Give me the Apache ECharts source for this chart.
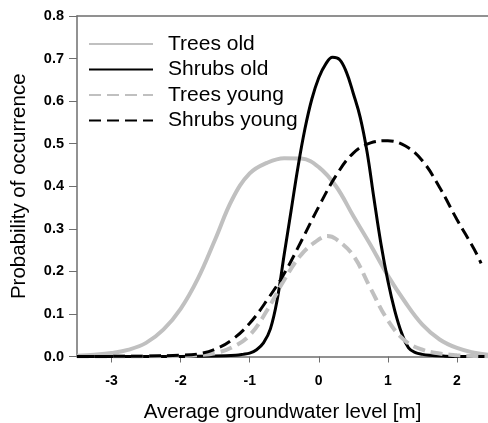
<!DOCTYPE html>
<html><head><meta charset="utf-8">
<script src="https://cdn.jsdelivr.net/npm/echarts@6/dist/echarts.min.js"></script>
<style>html,body{margin:0;padding:0;background:#fff}#c{width:488px;height:423px}</style>
</head><body><div id="c"></div>
<script>
var xTicks = [-3, -2, -1, 0, 1, 2];
var seriesNames = ['Trees old', 'Shrubs old', 'Trees young', 'Shrubs young'];

var treesOldX = [-3.5,-3.25,-3.0,-2.75,-2.5,-2.25,-2.0,-1.75,-1.5,-1.25,-1.0,-0.75,-0.5,-0.25,0.0,0.25,0.5,0.75,1.0,1.25,1.5,1.75,2.0,2.25,2.45];
var treesOldY = [0.002,0.004,0.008,0.016,0.032,0.063,0.112,0.183,0.275,0.37,0.43,0.455,0.466,0.465,0.445,0.40,0.33,0.262,0.19,0.128,0.075,0.04,0.02,0.009,0.004];

var shrubsOldX = [-3.5,-2.5,-2.0,-1.5,-1.2,-1.1,-1.0,-0.9,-0.8,-0.7,-0.6,-0.5,-0.4,-0.3,-0.2,-0.1,0.0,0.1,0.2,0.3,0.4,0.5,0.6,0.7,0.8,0.9,1.0,1.1,1.2,1.3,1.4,1.5,1.6,1.8,2.0,2.45];
var shrubsOldY = [0,0,0,0.001,0.003,0.005,0.008,0.016,0.032,0.065,0.135,0.24,0.343,0.446,0.535,0.605,0.655,0.687,0.703,0.698,0.668,0.618,0.562,0.48,0.37,0.265,0.178,0.108,0.055,0.02,0.009,0.005,0.003,0.001,0,0];

var treesYoungX = [-3.5,-2.5,-2.0,-1.75,-1.5,-1.25,-1.0,-0.75,-0.5,-0.25,0.0,0.125,0.25,0.5,0.75,1.0,1.25,1.5,1.75,2.0,2.25,2.45];
var treesYoungY = [0,0.0003,0.001,0.003,0.008,0.022,0.05,0.108,0.18,0.24,0.275,0.283,0.276,0.237,0.16,0.085,0.037,0.016,0.007,0.003,0.001,0.0005];

var shrubsYoungX = [-3.5,-3.0,-2.5,-2.0,-1.75,-1.5,-1.25,-1.0,-0.75,-0.5,-0.25,0.0,0.25,0.5,0.75,1.0,1.25,1.5,1.75,2.0,2.25,2.35];
var shrubsYoungY = [0,0.0003,0.001,0.003,0.006,0.017,0.04,0.078,0.132,0.195,0.272,0.352,0.425,0.478,0.502,0.507,0.495,0.46,0.397,0.322,0.252,0.219];

function pairs(xs, ys){ return xs.map(function(x,i){ return [x, ys[i]]; }); }

var FONT = '"Liberation Sans", Arial, sans-serif';
var AX = '#6e6e6e';
var chart = echarts.init(document.getElementById('c'), null, {renderer:'canvas'});
function mk(name, xs, ys, color, width, dashed){
  return {
    name: name, type: 'line', data: pairs(xs, ys), showSymbol: false, symbol: 'none',
    smooth: 0.4, z: 3,
    lineStyle: {color: color, width: width, type: dashed ? [12, 6] : 'solid'},
    itemStyle: {color: color}
  };
}
chart.setOption({
  animation: false,
  backgroundColor: '#fff',
  grid: {left: 77, top: 16, right: 0, bottom: 66.5, containLabel: false, outerBoundsMode: 'none'},
  legend: {
    orient: 'vertical', left: 83, top: 28.5, itemWidth: 64, itemHeight: 14, itemGap: 4.5,
    data: seriesNames,
    itemStyle: {opacity: 0},
    textStyle: {fontFamily: FONT, fontSize: 21, color: '#000', padding: [0,0,0,10]}
  },
  xAxis: [{
    type: 'value', min: -3.5, max: 2.45, position: 'bottom',
    splitLine: {show: false},
    axisLine: {show: true, onZero: false, lineStyle: {color: AX, width: 1.5}},
    axisTick: {show: true, customValues: xTicks, length: 6, lineStyle: {color: AX}},
    axisLabel: {customValues: xTicks, margin: 18, fontFamily: FONT, fontSize: 14, fontWeight: 'bold', color: '#000'},
    name: 'Average groundwater level [m]', nameLocation: 'middle', nameGap: 45,
    nameTextStyle: {fontFamily: FONT, fontSize: 20.5, color: '#000'}
  }, {
    type: 'value', min: -3.5, max: 2.45, position: 'top',
    splitLine: {show: false},
    axisLine: {show: true, onZero: false, lineStyle: {color: AX, width: 1.5}},
    axisTick: {show: false}, axisLabel: {show: false}
  }],
  yAxis: {
    type: 'value', min: 0, max: 0.8, interval: 0.1,
    splitLine: {show: false},
    axisLine: {show: true, onZero: false, lineStyle: {color: AX, width: 1.5}},
    axisTick: {show: true, length: 8, lineStyle: {color: AX}},
    axisLabel: {margin: 13, fontFamily: FONT, fontSize: 14.5, fontWeight: 'bold', color: '#000',
      formatter: function(v){ return v.toFixed(1); }},
    name: 'Probability of occurrence', nameLocation: 'middle', nameGap: 47,
    nameTextStyle: {fontFamily: FONT, fontSize: 20.5, color: '#000'}
  },
  series: [
    mk('Trees old', treesOldX, treesOldY, '#c0c0c0', 4, false),
    mk('Shrubs old', shrubsOldX, shrubsOldY, '#000000', 3, false),
    mk('Trees young', treesYoungX, treesYoungY, '#c0c0c0', 4, true),
    mk('Shrubs young', shrubsYoungX, shrubsYoungY, '#000000', 3, true)
  ]
});
</script></body></html>
